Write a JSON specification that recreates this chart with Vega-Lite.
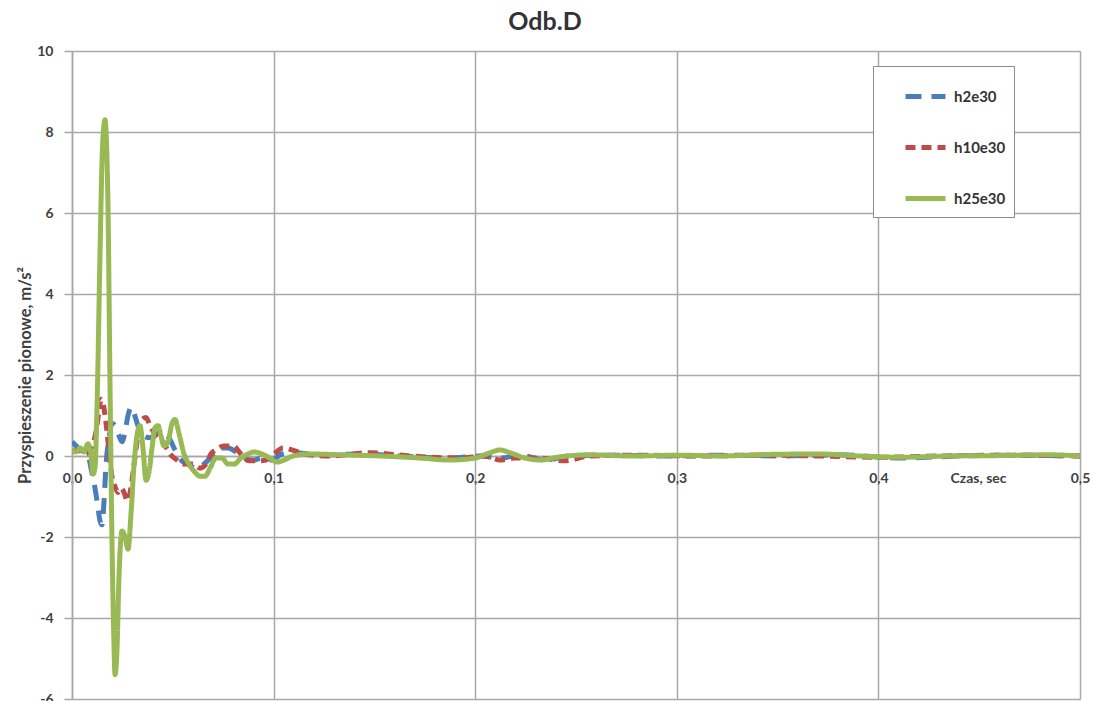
{
  "$schema": "https://vega.github.io/schema/vega-lite/v6.json",
  "width": 1008,
  "height": 648,
  "autosize": {"type": "none"},
  "padding": {"left": 72, "top": 51, "right": 14, "bottom": 2},
  "background": "white",
  "title": {
    "text": "Odb.D",
    "anchor": "middle",
    "frame": "group",
    "dx": -31,
    "offset": -11,
    "baseline": "alphabetic",
    "font": "Lato",
    "fontSize": 25,
    "fontWeight": "bold",
    "color": "#333333"
  },
  "data": {
    "values": [
      {"t": 0.0000, "a": 0.35, "s": "h2e30"},
      {"t": 0.0020, "a": 0.25, "s": "h2e30"},
      {"t": 0.0040, "a": 0.15, "s": "h2e30"},
      {"t": 0.0060, "a": 0.10, "s": "h2e30"},
      {"t": 0.0079, "a": 0.05, "s": "h2e30"},
      {"t": 0.0094, "a": -0.30, "s": "h2e30"},
      {"t": 0.0109, "a": -0.65, "s": "h2e30"},
      {"t": 0.0124, "a": -1.10, "s": "h2e30"},
      {"t": 0.0139, "a": -1.60, "s": "h2e30"},
      {"t": 0.0149, "a": -1.70, "s": "h2e30"},
      {"t": 0.0159, "a": -1.10, "s": "h2e30"},
      {"t": 0.0169, "a": -0.20, "s": "h2e30"},
      {"t": 0.0184, "a": 0.45, "s": "h2e30"},
      {"t": 0.0198, "a": 0.80, "s": "h2e30"},
      {"t": 0.0213, "a": 0.75, "s": "h2e30"},
      {"t": 0.0233, "a": 0.50, "s": "h2e30"},
      {"t": 0.0248, "a": 0.35, "s": "h2e30"},
      {"t": 0.0263, "a": 0.60, "s": "h2e30"},
      {"t": 0.0278, "a": 1.00, "s": "h2e30"},
      {"t": 0.0293, "a": 1.20, "s": "h2e30"},
      {"t": 0.0308, "a": 1.05, "s": "h2e30"},
      {"t": 0.0327, "a": 0.75, "s": "h2e30"},
      {"t": 0.0352, "a": 0.50, "s": "h2e30"},
      {"t": 0.0387, "a": 0.45, "s": "h2e30"},
      {"t": 0.0422, "a": 0.55, "s": "h2e30"},
      {"t": 0.0451, "a": 0.60, "s": "h2e30"},
      {"t": 0.0481, "a": 0.45, "s": "h2e30"},
      {"t": 0.0511, "a": 0.15, "s": "h2e30"},
      {"t": 0.0541, "a": -0.10, "s": "h2e30"},
      {"t": 0.0575, "a": -0.20, "s": "h2e30"},
      {"t": 0.0615, "a": -0.30, "s": "h2e30"},
      {"t": 0.0655, "a": -0.20, "s": "h2e30"},
      {"t": 0.0694, "a": 0.00, "s": "h2e30"},
      {"t": 0.0734, "a": 0.20, "s": "h2e30"},
      {"t": 0.0774, "a": 0.20, "s": "h2e30"},
      {"t": 0.0813, "a": 0.10, "s": "h2e30"},
      {"t": 0.0853, "a": -0.05, "s": "h2e30"},
      {"t": 0.0898, "a": -0.10, "s": "h2e30"},
      {"t": 0.0942, "a": -0.05, "s": "h2e30"},
      {"t": 0.0992, "a": -0.10, "s": "h2e30"},
      {"t": 0.1042, "a": 0.05, "s": "h2e30"},
      {"t": 0.1106, "a": 0.08, "s": "h2e30"},
      {"t": 0.1230, "a": 0.02, "s": "h2e30"},
      {"t": 0.1429, "a": 0.05, "s": "h2e30"},
      {"t": 0.1627, "a": 0.00, "s": "h2e30"},
      {"t": 0.1875, "a": -0.05, "s": "h2e30"},
      {"t": 0.2024, "a": 0.00, "s": "h2e30"},
      {"t": 0.2123, "a": -0.05, "s": "h2e30"},
      {"t": 0.2222, "a": 0.02, "s": "h2e30"},
      {"t": 0.2346, "a": -0.10, "s": "h2e30"},
      {"t": 0.2470, "a": 0.00, "s": "h2e30"},
      {"t": 0.2669, "a": 0.02, "s": "h2e30"},
      {"t": 0.2917, "a": 0.00, "s": "h2e30"},
      {"t": 0.3214, "a": 0.02, "s": "h2e30"},
      {"t": 0.3512, "a": 0.00, "s": "h2e30"},
      {"t": 0.3810, "a": 0.03, "s": "h2e30"},
      {"t": 0.4107, "a": -0.05, "s": "h2e30"},
      {"t": 0.4405, "a": 0.00, "s": "h2e30"},
      {"t": 0.4702, "a": 0.02, "s": "h2e30"},
      {"t": 0.5000, "a": 0.00, "s": "h2e30"},

      {"t": 0.0000, "a": 0.10, "s": "h10e30"},
      {"t": 0.0030, "a": 0.15, "s": "h10e30"},
      {"t": 0.0060, "a": 0.05, "s": "h10e30"},
      {"t": 0.0084, "a": 0.10, "s": "h10e30"},
      {"t": 0.0104, "a": 0.30, "s": "h10e30"},
      {"t": 0.0119, "a": 0.60, "s": "h10e30"},
      {"t": 0.0134, "a": 1.10, "s": "h10e30"},
      {"t": 0.0144, "a": 1.40, "s": "h10e30"},
      {"t": 0.0154, "a": 1.30, "s": "h10e30"},
      {"t": 0.0169, "a": 0.80, "s": "h10e30"},
      {"t": 0.0184, "a": 0.10, "s": "h10e30"},
      {"t": 0.0198, "a": -0.50, "s": "h10e30"},
      {"t": 0.0213, "a": -0.75, "s": "h10e30"},
      {"t": 0.0228, "a": -0.90, "s": "h10e30"},
      {"t": 0.0243, "a": -0.80, "s": "h10e30"},
      {"t": 0.0258, "a": -0.90, "s": "h10e30"},
      {"t": 0.0273, "a": -1.10, "s": "h10e30"},
      {"t": 0.0288, "a": -0.90, "s": "h10e30"},
      {"t": 0.0308, "a": -0.20, "s": "h10e30"},
      {"t": 0.0327, "a": 0.50, "s": "h10e30"},
      {"t": 0.0347, "a": 0.90, "s": "h10e30"},
      {"t": 0.0367, "a": 0.95, "s": "h10e30"},
      {"t": 0.0387, "a": 0.75, "s": "h10e30"},
      {"t": 0.0417, "a": 0.50, "s": "h10e30"},
      {"t": 0.0451, "a": 0.35, "s": "h10e30"},
      {"t": 0.0486, "a": 0.05, "s": "h10e30"},
      {"t": 0.0521, "a": -0.10, "s": "h10e30"},
      {"t": 0.0556, "a": -0.20, "s": "h10e30"},
      {"t": 0.0595, "a": -0.20, "s": "h10e30"},
      {"t": 0.0635, "a": -0.30, "s": "h10e30"},
      {"t": 0.0665, "a": -0.20, "s": "h10e30"},
      {"t": 0.0689, "a": 0.05, "s": "h10e30"},
      {"t": 0.0714, "a": 0.15, "s": "h10e30"},
      {"t": 0.0754, "a": 0.25, "s": "h10e30"},
      {"t": 0.0799, "a": 0.25, "s": "h10e30"},
      {"t": 0.0838, "a": 0.05, "s": "h10e30"},
      {"t": 0.0878, "a": -0.12, "s": "h10e30"},
      {"t": 0.0923, "a": -0.12, "s": "h10e30"},
      {"t": 0.0962, "a": -0.10, "s": "h10e30"},
      {"t": 0.1002, "a": 0.05, "s": "h10e30"},
      {"t": 0.1047, "a": 0.20, "s": "h10e30"},
      {"t": 0.1091, "a": 0.15, "s": "h10e30"},
      {"t": 0.1156, "a": 0.05, "s": "h10e30"},
      {"t": 0.1280, "a": 0.00, "s": "h10e30"},
      {"t": 0.1478, "a": 0.08, "s": "h10e30"},
      {"t": 0.1677, "a": 0.00, "s": "h10e30"},
      {"t": 0.1925, "a": -0.05, "s": "h10e30"},
      {"t": 0.2049, "a": 0.00, "s": "h10e30"},
      {"t": 0.2123, "a": -0.10, "s": "h10e30"},
      {"t": 0.2197, "a": -0.05, "s": "h10e30"},
      {"t": 0.2321, "a": -0.05, "s": "h10e30"},
      {"t": 0.2445, "a": -0.12, "s": "h10e30"},
      {"t": 0.2569, "a": 0.00, "s": "h10e30"},
      {"t": 0.2817, "a": 0.02, "s": "h10e30"},
      {"t": 0.3115, "a": 0.00, "s": "h10e30"},
      {"t": 0.3413, "a": 0.02, "s": "h10e30"},
      {"t": 0.3710, "a": 0.00, "s": "h10e30"},
      {"t": 0.4008, "a": -0.03, "s": "h10e30"},
      {"t": 0.4306, "a": 0.00, "s": "h10e30"},
      {"t": 0.4603, "a": 0.02, "s": "h10e30"},
      {"t": 0.5000, "a": 0.00, "s": "h10e30"},

      {"t": 0.0000, "a": 0.15, "s": "h25e30"},
      {"t": 0.0020, "a": 0.10, "s": "h25e30"},
      {"t": 0.0040, "a": 0.20, "s": "h25e30"},
      {"t": 0.0060, "a": 0.10, "s": "h25e30"},
      {"t": 0.0079, "a": 0.30, "s": "h25e30"},
      {"t": 0.0094, "a": 0.05, "s": "h25e30"},
      {"t": 0.0104, "a": -0.45, "s": "h25e30"},
      {"t": 0.0114, "a": -0.30, "s": "h25e30"},
      {"t": 0.0124, "a": 1.20, "s": "h25e30"},
      {"t": 0.0139, "a": 5.00, "s": "h25e30"},
      {"t": 0.0149, "a": 7.30, "s": "h25e30"},
      {"t": 0.0159, "a": 8.20, "s": "h25e30"},
      {"t": 0.0164, "a": 8.30, "s": "h25e30"},
      {"t": 0.0169, "a": 8.00, "s": "h25e30"},
      {"t": 0.0179, "a": 6.00, "s": "h25e30"},
      {"t": 0.0188, "a": 2.00, "s": "h25e30"},
      {"t": 0.0198, "a": -2.00, "s": "h25e30"},
      {"t": 0.0208, "a": -4.60, "s": "h25e30"},
      {"t": 0.0213, "a": -5.40, "s": "h25e30"},
      {"t": 0.0223, "a": -4.80, "s": "h25e30"},
      {"t": 0.0233, "a": -3.00, "s": "h25e30"},
      {"t": 0.0248, "a": -1.85, "s": "h25e30"},
      {"t": 0.0263, "a": -2.00, "s": "h25e30"},
      {"t": 0.0278, "a": -2.30, "s": "h25e30"},
      {"t": 0.0293, "a": -1.40, "s": "h25e30"},
      {"t": 0.0308, "a": -0.20, "s": "h25e30"},
      {"t": 0.0322, "a": 0.50, "s": "h25e30"},
      {"t": 0.0337, "a": 0.75, "s": "h25e30"},
      {"t": 0.0352, "a": 0.20, "s": "h25e30"},
      {"t": 0.0367, "a": -0.60, "s": "h25e30"},
      {"t": 0.0382, "a": -0.40, "s": "h25e30"},
      {"t": 0.0397, "a": 0.20, "s": "h25e30"},
      {"t": 0.0412, "a": 0.70, "s": "h25e30"},
      {"t": 0.0427, "a": 0.75, "s": "h25e30"},
      {"t": 0.0441, "a": 0.50, "s": "h25e30"},
      {"t": 0.0456, "a": 0.25, "s": "h25e30"},
      {"t": 0.0476, "a": 0.35, "s": "h25e30"},
      {"t": 0.0496, "a": 0.80, "s": "h25e30"},
      {"t": 0.0511, "a": 0.90, "s": "h25e30"},
      {"t": 0.0531, "a": 0.55, "s": "h25e30"},
      {"t": 0.0556, "a": 0.05, "s": "h25e30"},
      {"t": 0.0580, "a": -0.20, "s": "h25e30"},
      {"t": 0.0610, "a": -0.40, "s": "h25e30"},
      {"t": 0.0635, "a": -0.50, "s": "h25e30"},
      {"t": 0.0660, "a": -0.50, "s": "h25e30"},
      {"t": 0.0685, "a": -0.30, "s": "h25e30"},
      {"t": 0.0714, "a": -0.05, "s": "h25e30"},
      {"t": 0.0744, "a": -0.05, "s": "h25e30"},
      {"t": 0.0774, "a": -0.20, "s": "h25e30"},
      {"t": 0.0804, "a": -0.20, "s": "h25e30"},
      {"t": 0.0838, "a": -0.05, "s": "h25e30"},
      {"t": 0.0873, "a": 0.05, "s": "h25e30"},
      {"t": 0.0903, "a": 0.10, "s": "h25e30"},
      {"t": 0.0942, "a": 0.05, "s": "h25e30"},
      {"t": 0.0982, "a": -0.05, "s": "h25e30"},
      {"t": 0.1017, "a": -0.15, "s": "h25e30"},
      {"t": 0.1052, "a": -0.10, "s": "h25e30"},
      {"t": 0.1096, "a": 0.00, "s": "h25e30"},
      {"t": 0.1181, "a": 0.05, "s": "h25e30"},
      {"t": 0.1329, "a": 0.03, "s": "h25e30"},
      {"t": 0.1528, "a": 0.00, "s": "h25e30"},
      {"t": 0.1726, "a": -0.05, "s": "h25e30"},
      {"t": 0.1875, "a": -0.10, "s": "h25e30"},
      {"t": 0.1999, "a": -0.05, "s": "h25e30"},
      {"t": 0.2073, "a": 0.08, "s": "h25e30"},
      {"t": 0.2123, "a": 0.15, "s": "h25e30"},
      {"t": 0.2173, "a": 0.08, "s": "h25e30"},
      {"t": 0.2247, "a": -0.05, "s": "h25e30"},
      {"t": 0.2321, "a": -0.10, "s": "h25e30"},
      {"t": 0.2421, "a": -0.02, "s": "h25e30"},
      {"t": 0.2569, "a": 0.03, "s": "h25e30"},
      {"t": 0.2768, "a": 0.00, "s": "h25e30"},
      {"t": 0.3016, "a": 0.02, "s": "h25e30"},
      {"t": 0.3214, "a": 0.00, "s": "h25e30"},
      {"t": 0.3462, "a": 0.04, "s": "h25e30"},
      {"t": 0.3710, "a": 0.05, "s": "h25e30"},
      {"t": 0.3909, "a": 0.00, "s": "h25e30"},
      {"t": 0.4107, "a": -0.03, "s": "h25e30"},
      {"t": 0.4355, "a": 0.00, "s": "h25e30"},
      {"t": 0.4603, "a": 0.01, "s": "h25e30"},
      {"t": 0.4851, "a": 0.03, "s": "h25e30"},
      {"t": 0.5000, "a": 0.00, "s": "h25e30"}
    ]
  },
  "mark": {"type": "line", "interpolate": "monotone", "strokeCap": "butt", "clip": true},
  "encoding": {
    "x": {
      "field": "t",
      "type": "quantitative",
      "scale": {"domain": [0, 0.5], "nice": false, "zero": false},
      "axis": {
        "values": [0, 0.1, 0.2, 0.3, 0.4, 0.5],
        "labelExpr": "replace(format(datum.value, '.1f'), '.', ',')",
        "offset": -243,
        "ticks": false,
        "tickSize": 0,
        "labelPadding": 15,
        "labelAlign": "center",
        "domainColor": "#a6a6a6",
        "domainWidth": 1.5,
        "title": "Czas, sec",
        "titleX": 906,
        "titleY": 22,
        "titleAlign": "center",
        "titleBaseline": "middle",
        "titleAnchor": null
      }
    },
    "y": {
      "field": "a",
      "type": "quantitative",
      "scale": {"domain": [-6, 10], "nice": false, "zero": false},
      "axis": {
        "values": [-6, -4, -2, 0, 2, 4, 6, 8, 10],
        "labelExpr": "'' + datum.value",
        "tickSize": 8,
        "tickColor": "#a6a6a6",
        "tickWidth": 1.5,
        "labelPadding": 11,
        "domainColor": "#a6a6a6",
        "domainWidth": 1.5,
        "title": "Przyspieszenie pionowe, m/s²",
        "titleFontSize": 16.5,
        "titlePadding": 3
      }
    },
    "color": {
      "field": "s",
      "type": "nominal",
      "sort": ["h2e30", "h10e30", "h25e30"],
      "scale": {"domain": ["h2e30", "h10e30", "h25e30"], "range": ["#4a7ebb", "#be4b48", "#98b954"]},
      "legend": {
        "title": null,
        "orient": "none",
        "legendX": 801,
        "legendY": 15,
        "padding": 8,
        "symbolOffset": 22,
        "rowPadding": 18,
        "symbolType": "stroke",
        "symbolSize": 1600,
        "symbolStrokeWidth": 5,
        "labelOffset": 6,
        "labelFont": "Lato",
        "labelFontSize": 15,
        "labelFontWeight": "bold",
        "labelColor": "#333333",
        "strokeColor": "#8c8c8c",
        "fillColor": "white"
      }
    },
    "strokeDash": {
      "field": "s",
      "type": "nominal",
      "sort": ["h2e30", "h10e30", "h25e30"],
      "scale": {"domain": ["h2e30", "h10e30", "h25e30"], "range": [[16, 10], [10, 6], [1, 0]]}
    },
    "strokeWidth": {
      "field": "s",
      "type": "nominal",
      "scale": {"domain": ["h2e30", "h10e30", "h25e30"], "range": [5, 5, 6]},
      "legend": null
    }
  },
  "config": {
    "view": {"stroke": null},
    "axis": {
      "grid": true,
      "gridColor": "#a9a9a9",
      "gridWidth": 1.5,
      "labelFont": "Lato",
      "labelFontSize": 14,
      "labelFontWeight": "bold",
      "labelColor": "#404040",
      "titleFont": "Lato",
      "titleFontSize": 14,
      "titleFontWeight": "bold",
      "titleColor": "#404040"
    }
  }
}
